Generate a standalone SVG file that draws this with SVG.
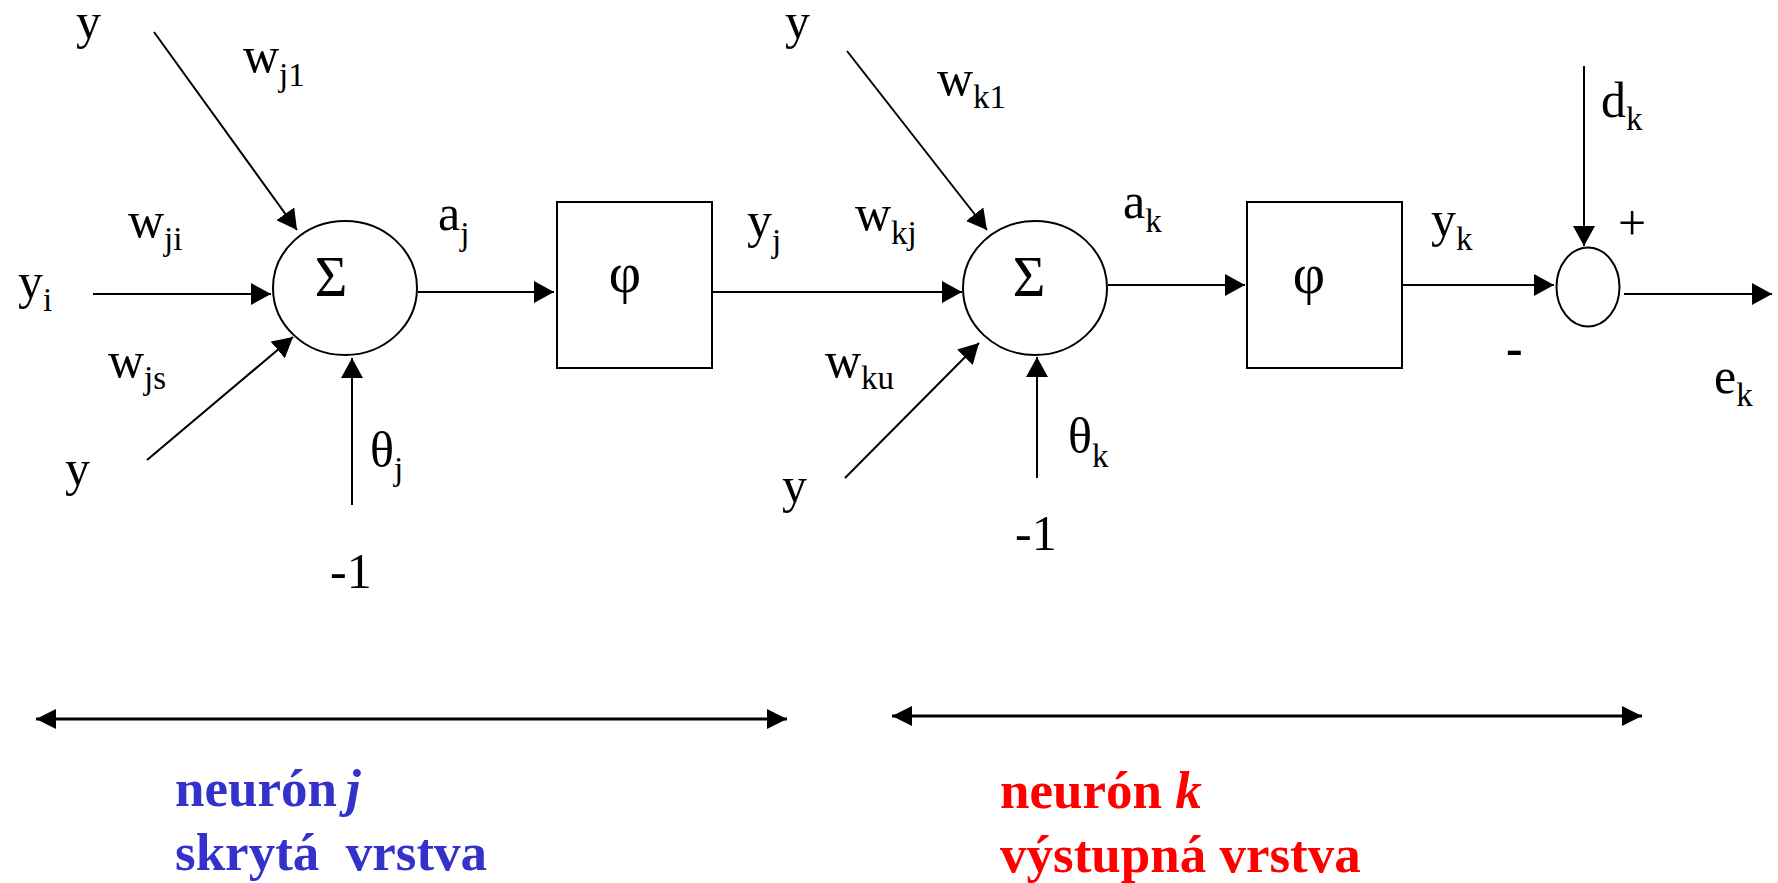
<svg xmlns="http://www.w3.org/2000/svg" width="1778" height="883" viewBox="0 0 1778 883">
<style>
.t{font-family:"Liberation Serif","Times New Roman",serif;font-size:50px;fill:#000}
.s{font-size:33px}
.g{font-size:56px}
.ln{stroke:#000;stroke-width:2;fill:none}
.bl{stroke:#000;stroke-width:3;fill:none}
.sh{fill:#fff;stroke:#000;stroke-width:2}
.b{font-family:"Liberation Serif","Times New Roman",serif;font-size:53px;font-weight:bold}
</style>
<defs>
<marker id="ah" markerUnits="userSpaceOnUse" markerWidth="22" markerHeight="22" refX="20" refY="11" orient="auto"><path d="M0,0 L20,11 L0,22 z" fill="#000"/></marker>
<marker id="bh" markerUnits="userSpaceOnUse" markerWidth="22" markerHeight="22" refX="20" refY="10" orient="auto-start-reverse"><path d="M0,0 L20,10 L0,20 z" fill="#000"/></marker>
</defs>
<rect width="1778" height="883" fill="#fff"/>
<g id="connectors">
<line class="ln" x1="154" y1="32" x2="297" y2="230" marker-end="url(#ah)"/>
<line class="ln" x1="93" y1="294" x2="271" y2="294" marker-end="url(#ah)"/>
<line class="ln" x1="147" y1="460" x2="293" y2="337" marker-end="url(#ah)"/>
<line class="ln" x1="352" y1="505" x2="352" y2="358" marker-end="url(#ah)"/>
<line class="ln" x1="418" y1="292" x2="554" y2="292" marker-end="url(#ah)"/>
<line class="ln" x1="712" y1="292" x2="962" y2="292" marker-end="url(#ah)"/>
<line class="ln" x1="847" y1="51" x2="987" y2="230" marker-end="url(#ah)"/>
<line class="ln" x1="845" y1="478" x2="979" y2="343" marker-end="url(#ah)"/>
<line class="ln" x1="1037" y1="478" x2="1037" y2="357" marker-end="url(#ah)"/>
<line class="ln" x1="1108" y1="285" x2="1245" y2="285" marker-end="url(#ah)"/>
<line class="ln" x1="1402" y1="285" x2="1554" y2="285" marker-end="url(#ah)"/>
<line class="ln" x1="1584" y1="66" x2="1584" y2="246" marker-end="url(#ah)"/>
<line class="ln" x1="1624" y1="294" x2="1772" y2="294" marker-end="url(#ah)"/>
<line class="bl" x1="36" y1="719" x2="787" y2="719" marker-start="url(#bh)" marker-end="url(#bh)"/>
<line class="bl" x1="892" y1="716" x2="1642" y2="716" marker-start="url(#bh)" marker-end="url(#bh)"/>
</g>
<g id="sum_j">
<ellipse class="sh" cx="345" cy="288" rx="72" ry="67"/>
<text class="t g" x="331" y="296" text-anchor="middle">Σ</text>
</g>
<g id="phi_j">
<rect class="sh" x="557" y="202" width="155" height="166"/>
<text class="t g" x="625" y="292" text-anchor="middle">φ</text>
</g>
<g id="sum_k">
<ellipse class="sh" cx="1035" cy="288" rx="72" ry="67"/>
<text class="t g" x="1029" y="296" text-anchor="middle">Σ</text>
</g>
<g id="phi_k">
<rect class="sh" x="1247" y="202" width="155" height="166"/>
<text class="t g" x="1309" y="293" text-anchor="middle">φ</text>
</g>
<g id="diff">
<ellipse class="sh" cx="1588" cy="287" rx="31.5" ry="39.5"/>
</g>
<g id="labels">
<text class="t" x="76" y="38">y</text>
<text class="t" x="243" y="72">w<tspan class="s" dy="14">j1</tspan></text>
<text class="t" x="128" y="237">w<tspan class="s" dy="13">ji</tspan></text>
<text class="t" x="18" y="298">y<tspan class="s" dy="13">i</tspan></text>
<text class="t" x="108" y="377">w<tspan class="s" dy="12">js</tspan></text>
<text class="t" x="65" y="485">y</text>
<text class="t" x="370" y="467">θ<tspan class="s" dy="13">j</tspan></text>
<text class="t" x="330" y="588">-1</text>
<text class="t" x="438" y="230">a<tspan class="s" dy="15">j</tspan></text>
<text class="t" x="747" y="237">y<tspan class="s" dy="15">j</tspan></text>
<text class="t" x="785" y="38">y</text>
<text class="t" x="937" y="95">w<tspan class="s" dy="13">k1</tspan></text>
<text class="t" x="855" y="230">w<tspan class="s" dy="14">kj</tspan></text>
<text class="t" x="1123" y="218">a<tspan class="s" dy="14">k</tspan></text>
<text class="t" x="825" y="377">w<tspan class="s" dy="12">ku</tspan></text>
<text class="t" x="782" y="502">y</text>
<text class="t" x="1068" y="453">θ<tspan class="s" dy="14">k</tspan></text>
<text class="t" x="1015" y="550">-1</text>
<text class="t" x="1431" y="236">y<tspan class="s" dy="14">k</tspan></text>
<text class="t" x="1601" y="117">d<tspan class="s" dy="13">k</tspan></text>
<text class="t" x="1618" y="240" font-size="70">+</text>
<text class="t" x="1506" y="365" font-weight="bold" font-size="56">-</text>
<text class="t" x="1714" y="393">e<tspan class="s" dy="13">k</tspan></text>
</g>
<g id="layer_j">
<text class="b" x="175" y="806" fill="#3333CC">neurón<tspan dx="9" font-style="italic">j</tspan></text>
<text class="b" x="175" y="870" fill="#3333CC" xml:space="preserve" style="white-space:pre">skrytá  vrstva</text>
</g>
<g id="layer_k">
<text class="b" x="1000" y="808" fill="#FF0000">neurón <tspan font-style="italic">k</tspan></text>
<text class="b" x="1000" y="872" fill="#FF0000">výstupná vrstva</text>
</g>
</svg>
